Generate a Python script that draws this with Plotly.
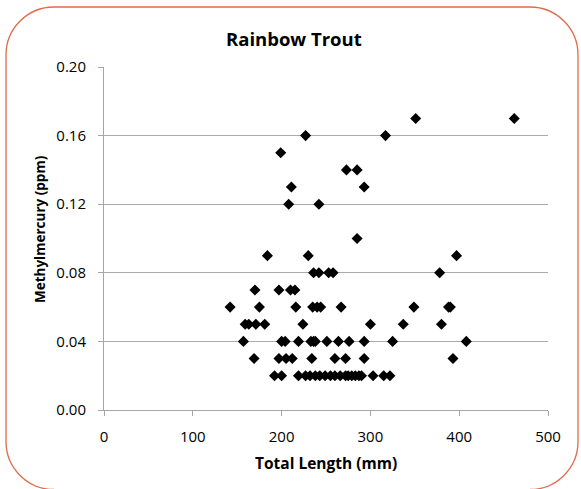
import plotly.graph_objects as go

# ---- data ----
mercury_levels = [0.17, 0.16, 0.15, 0.14, 0.13, 0.12, 0.10, 0.09, 0.08, 0.07, 0.06, 0.05, 0.04, 0.03, 0.02]
lengths_017 = [351, 462]
lengths_016 = [227, 317]
lengths_015 = [199]
lengths_014 = [273, 285]
lengths_013 = [211, 293]
lengths_012 = [208, 242]
lengths_010 = [285]
lengths_009 = [184, 230, 397]
lengths_008 = [236, 242, 253, 258, 378]
lengths_007 = [170, 197, 210, 215]
lengths_006 = [142, 175, 216, 235, 240, 244, 267, 349, 388, 390]
lengths_005 = [159, 163, 171, 181, 224, 300, 337, 380]
lengths_004 = [157, 200, 204, 219, 233, 236, 238, 251, 264, 276, 293, 325, 408]
lengths_003 = [169, 197, 205, 212, 234, 260, 272, 293, 393]
lengths_002 = [192, 200, 219, 227, 232, 238, 243, 249, 255, 260, 266, 272, 275,
               279, 283, 287, 290, 303, 315, 322]
groups = [lengths_017, lengths_016, lengths_015, lengths_014, lengths_013, lengths_012,
          lengths_010, lengths_009, lengths_008, lengths_007, lengths_006, lengths_005,
          lengths_004, lengths_003, lengths_002]

y_ticks = [0.00, 0.04, 0.08, 0.12, 0.16, 0.20]
x_ticks = [0, 100, 200, 300, 400, 500]

xs, ys = [], []
for level, grp in zip(mercury_levels, groups):
    for v in grp:
        xs.append(v)
        ys.append(level)

# figure fills the whole page (body margin removed in post_script)
W, H = 581, 489
ML, MT = 104, 67
PW, PH = 444, 343
MR, MB = W - ML - PW, H - MT - PH

def px(x):
    return (x - ML) / PW

def py(y):
    return (H - MB - y) / PH

FONT = "Open Sans, Liberation Sans, Arial, sans-serif"

fig = go.Figure()
fig.add_trace(go.Scatter(
    x=xs, y=ys, mode="markers",
    marker=dict(symbol="diamond", size=8.5, color="black", line=dict(width=0)),
    showlegend=False, hoverinfo="x+y",
))

# rounded border (page pixel coordinates); open at the bottom edge, which is cut off
x0, x1, y0, y1, r = 6, 578, 7, 489.5, 48
k = 0.5523 * r
path = (
    f"M {px(x0 + r)},{py(y1)} "
    f"C {px(x0 + r - k)},{py(y1)} {px(x0)},{py(y1 - r + k)} {px(x0)},{py(y1 - r)} "
    f"L {px(x0)},{py(y0 + r)} "
    f"C {px(x0)},{py(y0 + r - k)} {px(x0 + r - k)},{py(y0)} {px(x0 + r)},{py(y0)} "
    f"L {px(x1 - r)},{py(y0)} "
    f"C {px(x1 - r + k)},{py(y0)} {px(x1)},{py(y0 + r - k)} {px(x1)},{py(y0 + r)} "
    f"L {px(x1)},{py(y1 - r)} "
    f"C {px(x1)},{py(y1 - r + k)} {px(x1 - r + k)},{py(y1)} {px(x1 - r)},{py(y1)}"
)
fig.add_shape(type="path", path=path, xref="paper", yref="paper",
              line=dict(color="#E2694A", width=1.3), fillcolor="rgba(0,0,0,0)",
              layer="below")

fig.add_annotation(text="<b>Rainbow Trout</b>", x=px(293.5), y=py(39),
                   xref="paper", yref="paper", xanchor="center", yanchor="middle",
                   showarrow=False, font=dict(family=FONT, size=18.5, color="black"))
fig.add_annotation(text="<b>Total Length (mm)</b>", x=px(326), y=py(463),
                   xref="paper", yref="paper", xanchor="center", yanchor="middle",
                   showarrow=False, font=dict(family=FONT, size=15.5, color="black"))
fig.add_annotation(text="<b>Methylmercury (ppm)</b>", x=px(40), y=py(229),
                   xref="paper", yref="paper", xanchor="center", yanchor="middle",
                   textangle=-90, showarrow=False,
                   font=dict(family=FONT, size=13.5, color="black"))

fig.update_layout(
    width=W, height=H,
    margin=dict(l=ML, r=MR, t=MT, b=MB),
    paper_bgcolor="white", plot_bgcolor="white",
    font=dict(family=FONT, color="black"),
    xaxis=dict(range=[0, 500], tickvals=x_ticks, ticktext=[str(v) for v in x_ticks],
               showgrid=False, zeroline=False, showline=True, linecolor="#A6A6A6",
               linewidth=1, ticks="outside", ticklen=5, tickcolor="#A6A6A6",
               tickfont=dict(size=15, family=FONT, color="black"),
               ticklabelstandoff=8),
    yaxis=dict(range=[0, 0.20], tickvals=y_ticks, ticktext=[f"{v:.2f}" for v in y_ticks],
               showgrid=True, gridcolor="#ABABAB", gridwidth=1, zeroline=False,
               showline=True, linecolor="#A6A6A6", linewidth=1,
               ticks="outside", ticklen=5, tickcolor="#A6A6A6",
               tickfont=dict(size=15, family=FONT, color="black"),
               ticklabelstandoff=9),
)

fig.write_html(
    "out.html",
    config={"displayModeBar": False},
    post_script="document.body.style.margin='0';document.body.style.overflow='hidden';",
)
